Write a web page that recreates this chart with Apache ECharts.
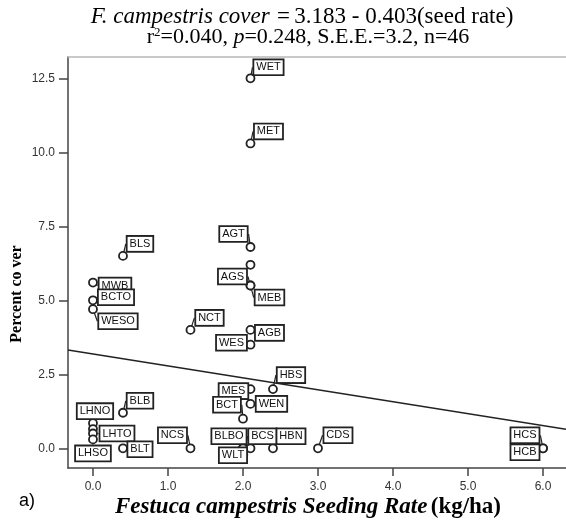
<!DOCTYPE html>
<html>
<head>
<meta charset="utf-8">
<script src="https://cdn.jsdelivr.net/npm/echarts@6/dist/echarts.min.js"></script>
<style>
  html, body { margin: 0; padding: 0; background: #fff; }
  #chart { width: 566px; height: 523px; }
</style>
</head>
<body>
<div id="chart"></div>
<script>
// Site codes, seeding rate (kg/ha) and F. campestris percent cover
const siteCodes = ['WET', 'MET', 'AGT', '', 'AGS', 'MEB', 'AGB', 'WES', 'NCT', 'BLS',
  'MWB', 'BCTO', 'WESO', 'BLB', 'LHNO', '', 'LHTO', 'LHSO', 'BLT', 'NCS',
  'HBS', 'MES', 'WEN', 'BCT', 'BLBO', 'WLT', 'BCS', 'HBN', 'CDS', 'HCS', 'HCB'];
const seedRate = [2.1, 2.1, 2.1, 2.1, 2.1, 2.1, 2.1, 2.1, 1.3, 0.4,
  0, 0, 0, 0.4, 0, 0, 0, 0, 0.4, 1.3,
  2.4, 2.1, 2.1, 2.0, 2.0, 2.0, 2.1, 2.4, 3.0, 6.0, 6.0];
const cover = [12.5, 10.3, 6.8, 6.2, 5.5, 5.5, 4.0, 3.5, 4.0, 6.5,
  5.6, 5.0, 4.7, 1.2, 0.85, 0.65, 0.5, 0.3, 0, 0,
  2.0, 2.0, 1.5, 1.0, 0, 0, 0, 0, 0, 0, 0];

// Fitted regression: cover = intercept + slope * seed rate
const intercept = 3.183;
const slope = -0.403;

const xTicks = [0, 1, 2, 3, 4, 5, 6];
const yTicks = [0, 2.5, 5, 7.5, 10, 12.5];

// Axis extents
const xMin = -0.333, xMax = 6.307;
const yMin = -0.666, yMax = 13.22;

// Where each site-code tag sits relative to its point (pixels)
const tagShift = {
  WET: [18, -11], MET: [18, -12], AGT: [-17, -13], AGS: [-18, -9], MEB: [19, 12],
  AGB: [19, 3], WES: [-19, -2], NCT: [19, -12], BLS: [17, -12], MWB: [22, 3],
  BCTO: [23, -3], WESO: [25, 12], BLB: [17, -12], LHNO: [2, -12], LHTO: [24, 0],
  LHSO: [0, 14], BLT: [17, 1], NCS: [-18, -13], HBS: [18, -14], MES: [-17, 2],
  WEN: [21, 0], BCT: [-16, -14], BLBO: [-14, -12], WLT: [-10, 7], BCS: [12, -12],
  HBN: [18, -12], CDS: [20, -13], HCS: [-18, -13], HCB: [-18, 4]
};

const points = seedRate.map((x, i) => ({
  value: [x, cover[i]],
  name: siteCodes[i],
  label: { show: siteCodes[i] !== '' }
}));

const fitLine = [xMin, xMax].map(x => [x, intercept + slope * x]);

const sans = 'Arial, "Liberation Sans", sans-serif';
const serif = '"Times New Roman", "Liberation Serif", serif';

const chart = echarts.init(document.getElementById('chart'), null, { renderer: 'canvas' });

chart.setOption({
  animation: false,
  backgroundColor: '#fff',
  grid: { left: 68, top: 57, right: 0, bottom: 55 },
  xAxis: [{
    type: 'value', min: xMin, max: xMax,
    splitLine: { show: false },
    axisLine: { show: true, onZero: false, lineStyle: { color: '#444', width: 1.5 } },
    axisTick: { show: true, length: 8, customValues: xTicks, lineStyle: { color: '#444', width: 1.5 } },
    axisLabel: {
      customValues: xTicks, margin: 13, color: '#333', fontFamily: sans, fontSize: 12,
      formatter: v => v.toFixed(1)
    }
  }, {
    type: 'value', position: 'top', min: xMin, max: xMax,
    splitLine: { show: false },
    axisLine: { show: true, onZero: false, lineStyle: { color: '#b8b8b8', width: 1.5 } },
    axisTick: { show: false }, axisLabel: { show: false }
  }],
  yAxis: {
    type: 'value', min: yMin, max: yMax,
    splitLine: { show: false },
    axisLine: { show: true, onZero: false, lineStyle: { color: '#444', width: 1.5 } },
    axisTick: { show: true, length: 9, customValues: yTicks, lineStyle: { color: '#444', width: 1.5 } },
    axisLabel: {
      customValues: yTicks, margin: 13, color: '#333', fontFamily: sans, fontSize: 12,
      formatter: v => v.toFixed(1)
    }
  },
  series: [{
    type: 'line',
    data: fitLine,
    symbol: 'none',
    lineStyle: { color: '#222', width: 1.5 },
    z: 1
  }, {
    type: 'scatter',
    data: points,
    symbol: 'circle',
    symbolSize: 8,
    itemStyle: { color: '#fff', borderColor: '#222', borderWidth: 1.8, opacity: 1 },
    label: {
      show: true, position: 'inside', formatter: '{b}',
      fontFamily: sans, fontSize: 11, color: '#111',
      backgroundColor: '#fff', borderColor: '#222', borderWidth: 1.8,
      padding: [2, 2, 1, 2]
    },
    labelLine: { show: true, lineStyle: { color: '#222', width: 1.2 } },
    labelLayout: params => {
      const s = tagShift[siteCodes[params.dataIndex]] || [0, 0];
      return { dx: s[0], dy: s[1] };
    },
    z: 3
  }],
  graphic: [{
    type: 'text', x: 302, y: 17,
    style: {
      text: '{i|F. campestris cover =} {n|3.183 - 0.403(seed rate)}',
      align: 'center', verticalAlign: 'middle',
      rich: {
        i: { fontFamily: serif, fontStyle: 'italic', fontSize: 23, fill: '#000' },
        n: { fontFamily: serif, fontSize: 23, fill: '#000' }
      }
    }
  }, {
    type: 'text', x: 308, y: 37,
    style: {
      text: '{n|r}{s|2}{n|=0.040, }{i|p}{n|=0.248, S.E.E.=3.2, n=46}',
      align: 'center', verticalAlign: 'middle',
      rich: {
        n: { fontFamily: serif, fontSize: 22, fill: '#000', lineHeight: 22 },
        i: { fontFamily: serif, fontStyle: 'italic', fontSize: 22, fill: '#000', lineHeight: 22 },
        s: { fontFamily: serif, fontSize: 13, fill: '#000', verticalAlign: 'top', lineHeight: 22 }
      }
    }
  }, {
    type: 'text', x: 308, y: 507,
    style: {
      text: '{bi|Festuca campestris Seeding Rate} {b|(kg/ha)}',
      align: 'center', verticalAlign: 'middle',
      rich: {
        bi: { fontFamily: serif, fontStyle: 'italic', fontWeight: 'bold', fontSize: 23, fill: '#000' },
        b: { fontFamily: serif, fontWeight: 'bold', fontSize: 23, fill: '#000' }
      }
    }
  }, {
    type: 'text', x: 19, y: 501,
    style: { text: 'a)', fontFamily: sans, fontSize: 18, fill: '#000', verticalAlign: 'middle' }
  }, {
    type: 'text', x: 17, y: 294, rotation: Math.PI / 2,
    style: {
      text: 'Percent co ver', fontFamily: serif, fontWeight: 'bold', fontSize: 16,
      fill: '#000', align: 'center', verticalAlign: 'middle'
    }
  }]
});
</script>
</body>
</html>
